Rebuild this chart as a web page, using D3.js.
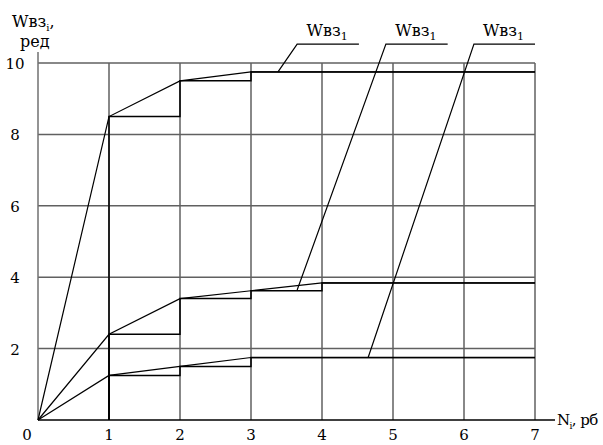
<!DOCTYPE html>
<html>
<head>
<meta charset="utf-8">
<script src="https://cdn.jsdelivr.net/npm/d3@7"></script>
<style>
    body { margin: 0; background: #fff; }
    svg text { font-family: "DejaVu Serif", "Liberation Serif", serif; }
</style>
</head>
<body>
<svg id="chart" width="603" height="445"></svg>
<script>
    "use strict";

    // N values (x) and the three series of W (y)
    const nValues = [0, 1, 2, 3, 4];
    const wTop = [0, 8.5, 9.5, 9.75, 9.75];
    const wMid = [0, 2.4, 3.4, 3.62, 3.84];
    const wLow = [0, 1.25, 1.5, 1.75, 1.75];
    const xTicks = [0, 1, 2, 3, 4, 5, 6, 7];
    const yTicks = [2, 4, 6, 8, 10];

    // callout labels: point on curve, elbow x, end x of underline
    const calloutAt = [[3.38, 9.75], [3.65, 3.64], [4.65, 1.75]];
    const calloutElbow = [3.65, 4.9, 6.14];
    const calloutEnd = [4.52, 5.77, 7.0];
    const calloutY = 10.53;

    const svg = d3.select("#chart");
    const x = d3.scaleLinear().domain([0, 7]).range([38, 535]);
    const y = d3.scaleLinear().domain([0, 10]).range([420, 63]);
    const xMax = 7, yMax = 10;

    // grid
    const grid = svg.append("g").attr("stroke", "#606060").attr("stroke-width", 1.5);
    grid.selectAll("line.h").data(yTicks).join("line")
        .attr("class", "h")
        .attr("x1", x(0)).attr("x2", x(xMax))
        .attr("y1", d => y(d)).attr("y2", d => y(d));
    grid.selectAll("line.v").data(xTicks.slice(1)).join("line")
        .attr("class", "v")
        .attr("x1", d => x(d)).attr("x2", d => x(d))
        .attr("y1", y(0)).attr("y2", y(yMax));

    // axes
    svg.append("line")
        .attr("x1", x(0)).attr("x2", x(0))
        .attr("y1", y(0)).attr("y2", y(yMax) - 11)
        .attr("stroke", "#707070").attr("stroke-width", 1.5);
    svg.append("line")
        .attr("x1", x(0)).attr("x2", x(xMax) + 20)
        .attr("y1", y(0)).attr("y2", y(0))
        .attr("stroke", "#000").attr("stroke-width", 1.5);

    // tick labels
    svg.selectAll("text.xt").data(xTicks).join("text")
        .attr("class", "xt")
        .attr("x", d => d === 0 ? x(d) - 11 : x(d))
        .attr("y", y(0) + 20)
        .attr("text-anchor", "middle")
        .attr("font-size", 15)
        .text(d => d);
    svg.selectAll("text.yt").data(yTicks).join("text")
        .attr("class", "yt")
        .attr("x", 15)
        .attr("y", d => y(d) + 6)
        .attr("text-anchor", "middle")
        .attr("font-size", 15)
        .text(d => d);

    // axis titles
    const yt = svg.append("text").attr("x", 12).attr("y", 27).attr("font-size", 16);
    yt.append("tspan").text("Wвз");
    yt.append("tspan").attr("font-size", 10).attr("dy", 4).text("i");
    yt.append("tspan").attr("dy", -4).text(",");
    svg.append("text").attr("x", 20).attr("y", 47).attr("font-size", 16).text("ред");

    const xt = svg.append("text").attr("x", x(xMax) + 22).attr("y", y(0) + 5)
        .attr("font-size", 15).attr("letter-spacing", -0.6);
    xt.append("tspan").text("N");
    xt.append("tspan").attr("font-size", 9).attr("dy", 4).text("i");
    xt.append("tspan").attr("dy", -4).text(", рб");

    // curves: polyline through points plus step line
    const line = d3.line().x(d => x(d[0])).y(d => y(d[1]));
    [wTop, wMid, wLow].forEach(series => {
        const pts = nValues.map((n, i) => [n, series[i]]);
        pts.push([xMax, series[series.length - 1]]);
        svg.append("path")
            .attr("d", line(pts))
            .attr("fill", "none").attr("stroke", "#000").attr("stroke-width", 1.2);

        const steps = [];
        for (let i = 1; i < nValues.length; i++) {
            steps.push([nValues[i], series[i - 1]]);
            steps.push([nValues[i], series[i]]);
            const next = i + 1 < nValues.length ? nValues[i + 1] : xMax;
            steps.push([next, series[i]]);
        }
        svg.append("path")
            .attr("d", line(steps))
            .attr("fill", "none").attr("stroke", "#000").attr("stroke-width", 1.5);
    });

    // callouts
    calloutAt.forEach((p, i) => {
        const pts = [p, [calloutElbow[i], calloutY], [calloutEnd[i], calloutY]];
        svg.append("path")
            .attr("d", line(pts))
            .attr("fill", "none").attr("stroke", "#000").attr("stroke-width", 1.2);
        const t = svg.append("text")
            .attr("x", x((calloutElbow[i] + calloutEnd[i]) / 2) - 1)
            .attr("y", y(calloutY) - 8)
            .attr("text-anchor", "middle")
            .attr("font-size", 16);
        t.append("tspan").text("Wвз");
        t.append("tspan").attr("font-size", 11).attr("dy", 4).text("1");
    });
</script>
</body>
</html>
